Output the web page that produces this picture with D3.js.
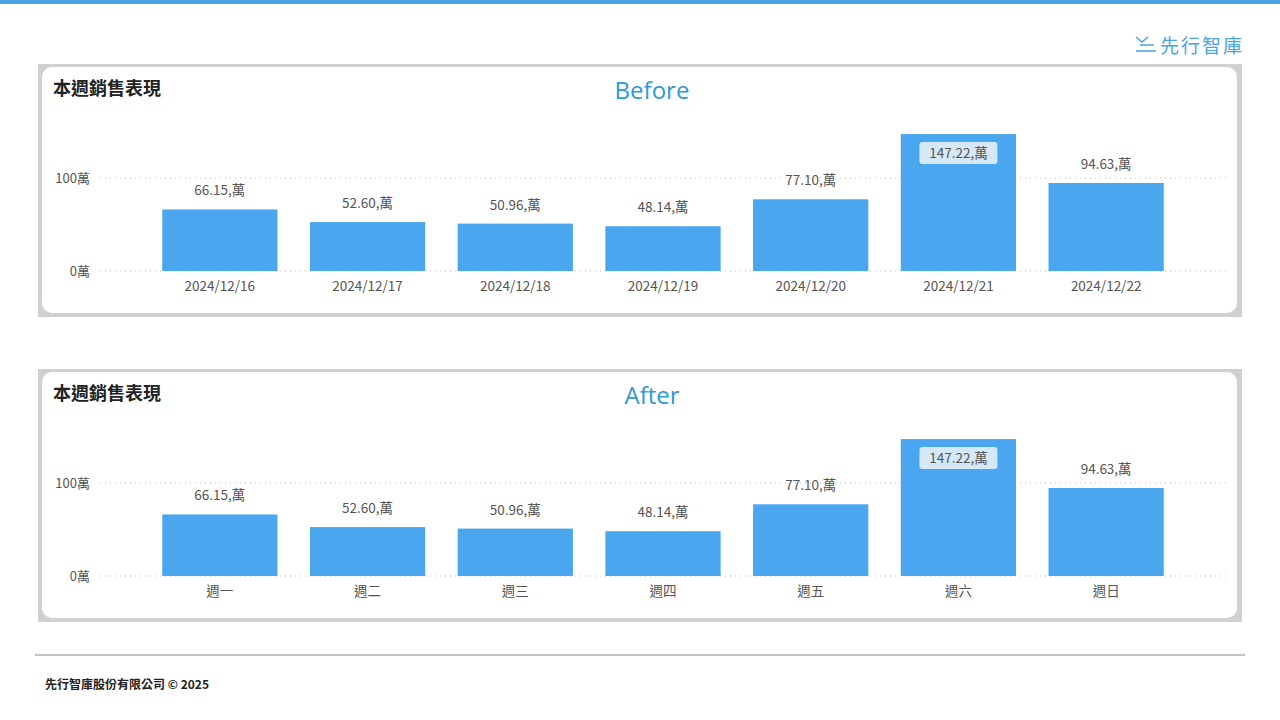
<!DOCTYPE html>
<html><head><meta charset="utf-8">
<script src="https://cdn.jsdelivr.net/npm/d3@7"></script>
<style>body{margin:0;background:#fff;font-family:"Noto Sans CJK TC","Noto Sans",sans-serif}</style>
</head><body><svg id="c" width="1280" height="720"></svg>
<script>
const dates=["2024/12/16","2024/12/17","2024/12/18","2024/12/19","2024/12/20","2024/12/21","2024/12/22"];
const weekdays=["週一","週二","週三","週四","週五","週六","週日"];
const sales=[66.15,52.60,50.96,48.14,77.10,147.22,94.63];
const yTicks=[0,100];
const panelTitles=["Before","After"];
const svg=d3.select("#c");
const font='"Noto Sans CJK TC","Noto Sans",sans-serif';
svg.append("rect").attr("x",0).attr("y",0).attr("width",1280).attr("height",4).attr("fill","#4AA3E8");
const lg=svg.append("g").attr("transform","translate(1136,37)").attr("stroke","#4AA3E8").attr("stroke-width",1.6).attr("fill","none");
lg.append("path").attr("d","M0,0 L6,5 L12,0 M4,8 L18,8 M0,14 L20,14");
svg.append("text").attr("x",1160).attr("y",53).attr("font-size",19).attr("fill","#4AA3E8").attr("letter-spacing",2).attr("font-family",font).text("先行智庫");
function panel(top,cats,title){
  const g=svg.append("g").attr("transform",`translate(0,${top})`);
  g.append("rect").attr("x",38).attr("y",0).attr("width",1204).attr("height",253).attr("fill","#d0d0d0");
  g.append("rect").attr("x",42).attr("y",3).attr("width",1195).attr("height",246).attr("rx",10).attr("fill","#fff");
  g.append("text").attr("x",53).attr("y",31).attr("font-size",18).attr("font-weight","bold").attr("fill","#222").attr("font-family",font).text("本週銷售表現");
  g.append("text").attr("x",652).attr("y",35).attr("text-anchor","middle").attr("font-size",24).attr("fill","#2A9AD8").attr("font-family","'Open Sans',sans-serif").text(title);
  const x=d3.scaleBand().domain(cats).range([146,1180]).paddingInner(0.22).paddingOuter(0.11);
  const y=d3.scaleLinear().domain([0,100]).range([207,114]);
  yTicks.forEach(t=>{
    g.append("line").attr("x1",100).attr("x2",1230).attr("y1",y(t)).attr("y2",y(t)).attr("stroke","#bbb").attr("stroke-dasharray","1,4");
    g.append("text").attr("x",90).attr("y",y(t)+5).attr("text-anchor","end").attr("font-size",13).attr("fill","#555").attr("font-family",font).text(t+"萬");
  });
  g.selectAll(".b").data(sales).enter().append("rect").attr("x",(d,i)=>x(cats[i])).attr("width",x.bandwidth())
   .attr("y",d=>y(d)).attr("height",d=>y(0)-y(d)).attr("fill","#4AA6EE");
  sales.forEach((d,i)=>{
    const cx=x(cats[i])+x.bandwidth()/2;
    g.append("text").attr("x",cx).attr("y",227).attr("text-anchor","middle").attr("font-size",13.5).attr("fill","#555").attr("font-family",font).text(cats[i]);
    const lbl=d.toFixed(2)+",萬";
    if(d>120){
      g.append("rect").attr("x",cx-39).attr("y",y(d)+8).attr("width",78).attr("height",22).attr("rx",3).attr("fill","#d5e8f8");
      g.append("text").attr("x",cx).attr("y",y(d)+24).attr("text-anchor","middle").attr("font-size",13.5).attr("fill","#555").attr("font-family",font).text(lbl);
    } else {
      g.append("text").attr("x",cx).attr("y",y(d)-14).attr("text-anchor","middle").attr("font-size",13.5).attr("fill","#555").attr("font-family",font).text(lbl);
    }
  });
}
panel(64,dates,panelTitles[0]);
panel(369,weekdays,panelTitles[1]);
svg.append("line").attr("x1",35).attr("x2",1245).attr("y1",655).attr("y2",655).attr("stroke","#888");
svg.append("text").attr("x",45).attr("y",689).attr("font-size",12).attr("font-weight","bold").attr("fill","#222").attr("font-family",font).text("先行智庫股份有限公司 © 2025");
</script></body></html>
